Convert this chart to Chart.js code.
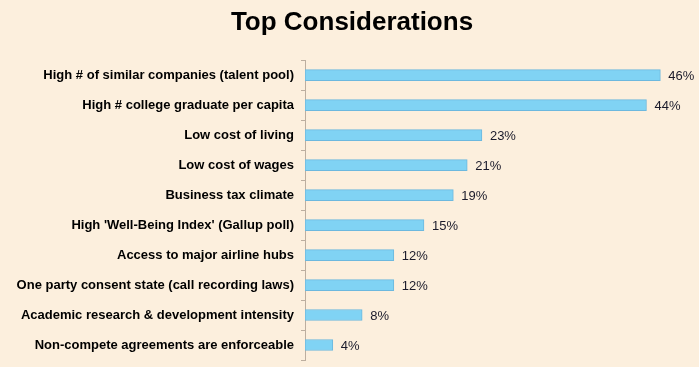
<!DOCTYPE html>
<html>
<head>
<meta charset="utf-8">
<script src="https://cdn.jsdelivr.net/npm/chart.js@4"></script>
<style>
    html, body { margin: 0; padding: 0; background: #fcefdd; }
    #wrap { width: 699px; height: 367px; }
</style>
</head>
<body>
<div id="wrap"><canvas id="bar-chart" width="699" height="367"></canvas></div>
<script>
// Top Considerations
const categories = [
    'High # of similar companies (talent pool)',
    'High # college graduate per capita',
    'Low cost of living',
    'Low cost of wages',
    'Business tax climate',
    "High 'Well-Being Index' (Gallup poll)",
    'Access to major airline hubs',
    'One party consent state (call recording laws)',
    'Academic research & development intensity',
    'Non-compete agreements are enforceable'
];
const shares = [46, 44.2, 22.9, 21, 19.2, 15.4, 11.5, 11.5, 7.4, 3.6];
const shareLabels = ['46%', '44%', '23%', '21%', '19%', '15%', '12%', '12%', '8%', '4%'];

// tulis label persen di ujung bar
const valueLabels = {
    id: 'valueLabels',
    afterDatasetsDraw(chart) {
        const ctx = chart.ctx;
        const meta = chart.getDatasetMeta(0);
        ctx.save();
        ctx.font = '13px "Liberation Sans", Arial, sans-serif';
        ctx.fillStyle = '#1a1a2a';
        ctx.textAlign = 'left';
        ctx.textBaseline = 'middle';
        meta.data.forEach(function (bar, i) {
            ctx.fillText(shareLabels[i], bar.x + 8, bar.y + 1);
        });
        ctx.restore();
    }
};

new Chart(document.getElementById('bar-chart'), {
    type: 'bar',
    data: {
        labels: categories,
        datasets: [{
            data: shares,
            backgroundColor: '#80d3f4',
            borderColor: '#6cb8de',
            borderWidth: 1,
            borderSkipped: false,
            barThickness: 11
        }]
    },
    options: {
        indexAxis: 'y',
        responsive: false,
        animation: false,
        layout: { padding: { top: 0, right: 0, bottom: 7, left: 5 } },
        plugins: {
            legend: { display: false },
            tooltip: { enabled: false },
            title: {
                display: true,
                text: 'Top Considerations',
                color: '#000',
                font: { family: '"Liberation Sans", Arial, sans-serif', size: 26, weight: 'bold' },
                padding: { top: 7, bottom: 22 }
            }
        },
        scales: {
            x: { display: false, min: 0, max: 51 },
            y: {
                afterFit: function (scale) {
                    scale.width = 300;
                    scale.paddingTop = 0;
                    scale.paddingBottom = 0;
                },
                border: { color: '#bcae9f', width: 1 },
                grid: { drawOnChartArea: false, tickLength: 4, color: '#bcae9f', offset: true },
                ticks: {
                    color: '#000',
                    padding: 7,
                    font: { family: '"Liberation Sans", Arial, sans-serif', size: 13, weight: 'bold' }
                }
            }
        }
    },
    plugins: [valueLabels]
});
</script>
</body>
</html>
